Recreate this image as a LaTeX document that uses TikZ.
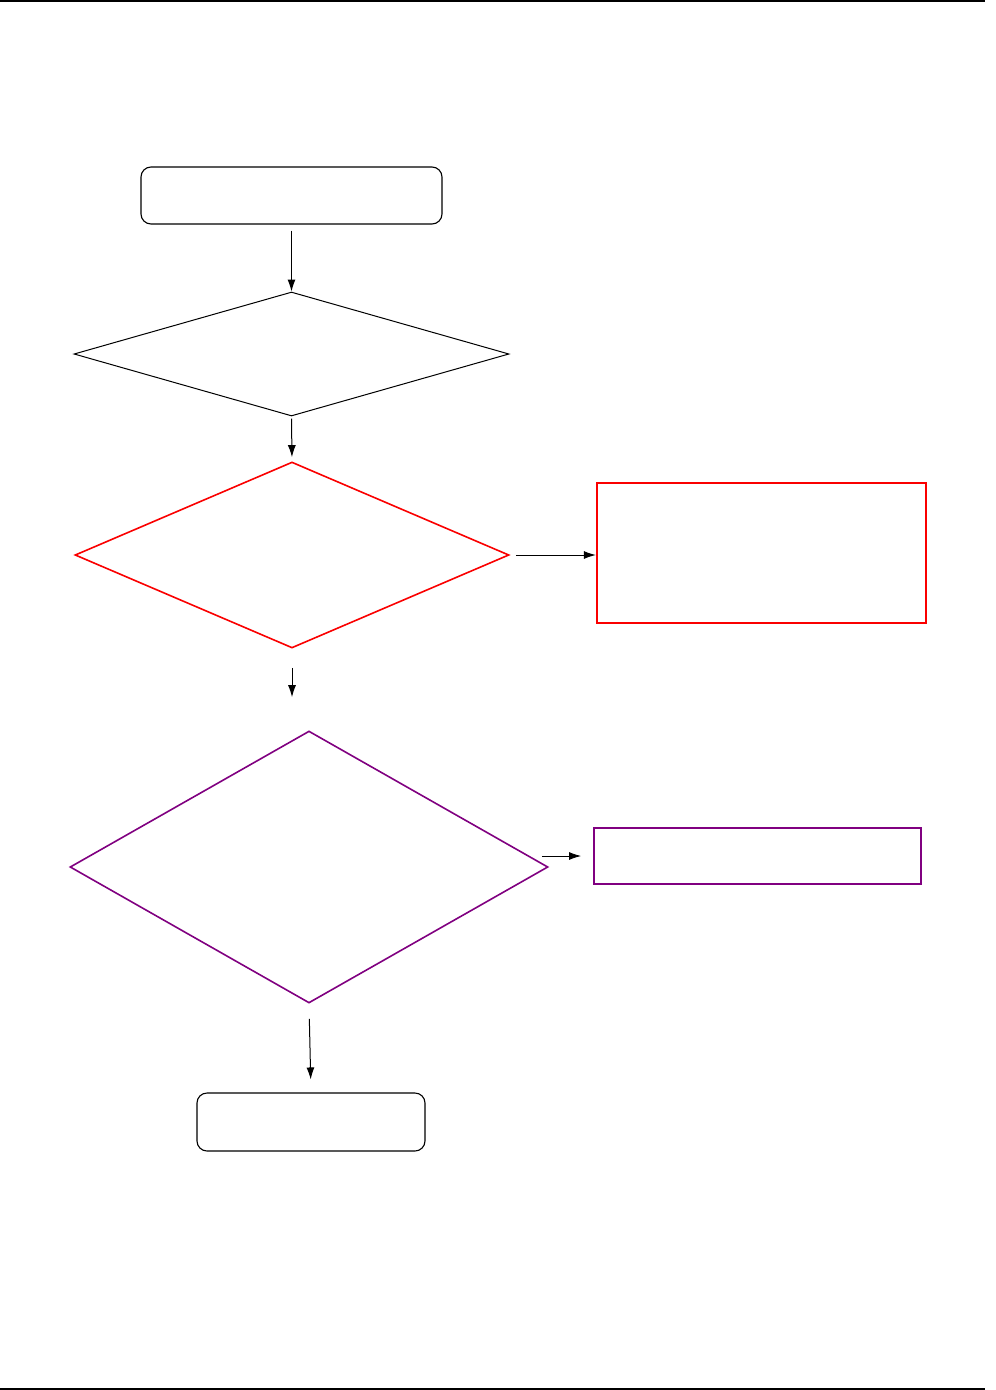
\documentclass[tikz,border=0pt]{standalone}
\definecolor{rouge}{RGB}{250,0,0}
\definecolor{pourpre}{RGB}{128,0,128}
\usepackage{tikz}
\usetikzlibrary{arrows.meta,positioning,shapes.geometric,calc}
\tikzset{
  fleche/.style={-{Latex[length=2.4mm,width=1.6mm]},line width=0.2mm},
  boite/.style={draw,line width=0.22mm,rounded corners=2mm,inner sep=0pt},
  losange/.style={draw,diamond,inner sep=0pt,line width=0.2mm},
  cadre/.style={draw,inner sep=0pt,line width=0.45mm},
}
\begin{document}
\begin{tikzpicture}[x=0.2mm,y=-0.2mm]
  \useasboundingbox (0,0) rectangle (995,1390);
  \draw[line width=0.3mm](0,1)--(985,1);
  \draw[line width=0.3mm](0,1389)--(985,1389);
  % noeuds
  \node[boite,minimum width=60.2mm,minimum height=11.4mm] (debut) at (291.5,195.5){};
  \node[losange,minimum width=87mm,minimum height=24.8mm] (test1) at (291.5,354){};
  \node[losange,rouge,line width=0.32mm,minimum width=86.8mm,minimum height=37.2mm] (test2) at (292,555){};
  \node[cadre,rouge,minimum width=65.8mm,minimum height=28mm] (erreur) at (761.5,553){};
  \node[losange,pourpre,line width=0.32mm,minimum width=95.6mm,minimum height=54.4mm] (test3) at (309,867){};
  \node[cadre,pourpre,line width=0.4mm,minimum width=65.4mm,minimum height=11.2mm] (avert) at (757.5,856){};
  \node[boite,minimum width=45.6mm,minimum height=11.6mm] (fin) at (311,1122){};
  % fleches
  \draw[fleche,shorten <=1.2mm](debut.south)--(test1.north);
  \draw[fleche,shorten <=0.4mm,shorten >=0.8mm](test1.south)--(test2.north);
  \draw[fleche,shorten <=1.2mm](test2.east)--(test2.east -| erreur.west);
  \draw[fleche,shorten <=3.8mm,shorten >=6.6mm](test2.south)--(test2.south |- test3.north);
  \draw[fleche,line width=0.15mm,shorten <=-1.4mm,shorten >=2.4mm](test3.east |- avert.west)--(avert.west);
  \draw[fleche,shorten <=3mm,shorten >=2.6mm](test3.south)--(fin.north);
\end{tikzpicture}
\end{document}
